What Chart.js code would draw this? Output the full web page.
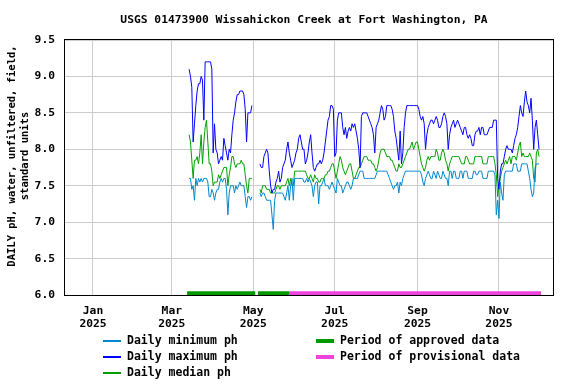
<!DOCTYPE html>
<html>
<head>
<meta charset="utf-8">
<script src="https://cdn.jsdelivr.net/npm/chart.js@4/dist/chart.umd.min.js"></script>
<style>
  html, body { margin: 0; padding: 0; background: #fff; }
  canvas { display: block; }
</style>
</head>
<body>
<canvas id="phchart" width="576" height="384"></canvas>
<script>
// x values are day-of-year 2025 (Jan 1 = 0); first value is Mar 14 (day 72)
const firstDay = 72;

// daily minimum pH, days 72..334 (null = no data)
const minPh = [
  7.6, 7.6, 7.45, 7.5, 7.3, 7.6, 7.5, 7.6, 7.55, 7.6,
  7.55, 7.6, 7.6, 7.6, 7.55, 7.35, 7.35, 7.45, 7.4, 7.3,
  7.4, 7.45, 7.45, 7.55, 7.6, 7.55, 7.6, 7.6, 7.45, 7.1,
  7.4, 7.5, 7.5, 7.5, 7.4, 7.5, 7.45, 7.5, 7.55, 7.5,
  7.5, 7.5, 7.35, 7.2, 7.35, 7.35, 7.3, 7.35,
  null, null, null, null, null,
  7.4, 7.35, 7.4, 7.4, 7.35, 7.3, 7.3, 7.3, 7.3, 7.1,
  6.9, 7.3, 7.4, 7.4, 7.4, 7.4, 7.4, 7.4, 7.35, 7.3,
  7.4, 7.5, 7.3, 7.5, 7.6, 7.3, 7.6, 7.6, 7.6, 7.6,
  7.6, 7.6, 7.6, 7.55, 7.55, 7.6, 7.55, 7.6, 7.55, 7.5,
  7.35, 7.5, 7.55, 7.55, 7.25, 7.5, 7.5, 7.55, 7.6, 7.5,
  7.5, 7.5, 7.45, 7.5, 7.55, 7.5, 7.45,
  7.4, 7.6, 7.55, 7.5, 7.5, 7.4, 7.45, 7.5, 7.55, 7.55,
  7.5, 7.45, 7.5, 7.6, 7.6, 7.6, 7.6, 7.65, 7.7, 7.7,
  7.7, 7.6, 7.6, 7.6, 7.6, 7.6, 7.6, 7.6, 7.6, 7.6,
  7.65, 7.7, 7.7, 7.7, 7.7, 7.7, 7.7, 7.7, 7.7, 7.65,
  7.6, 7.55, 7.5, 7.45, 7.5, 7.5, 7.55, 7.4, 7.55, 7.5,
  7.6, 7.65, 7.7, 7.7, 7.7,
  7.7, 7.7, 7.7, 7.7, 7.7, 7.7, 7.7, 7.7, 7.7, 7.65,
  7.55, 7.5, 7.6, 7.65, 7.7, 7.65, 7.6, 7.6, 7.7, 7.65,
  7.6, 7.7, 7.65, 7.6, 7.6, 7.7, 7.65, 7.6, 7.6, 7.5,
  7.7, 7.7, 7.6, 7.7, 7.7, 7.6, 7.6, 7.6, 7.7, 7.7,
  7.6, 7.7, 7.7, 7.7, 7.6, 7.6, 7.6, 7.6, 7.7,
  7.7, 7.65, 7.65, 7.7, 7.7, 7.7, 7.6, 7.6, 7.6, 7.6,
  7.7, 7.7, 7.7, 7.7, 7.7, 7.65, 7.1, 7.3, 7.05, 7.55,
  7.4, 7.3, 7.65, 7.7, 7.7, 7.7, 7.7, 7.7, 7.7, 7.8,
  7.8, 7.8, 7.7, 7.7, 7.7, 7.8, 7.8, 7.8, 7.8, 7.8,
  7.7, 7.6, 7.45, 7.35, 7.4, 7.75, 7.8, 7.8, 7.8
];

// daily maximum pH, days 72..334
const maxPh = [
  9.1, 9.0, 8.85, 8.1, 8.35, 8.6, 8.8, 8.9, 8.9, 9.0,
  8.95, 8.4, 9.2, 9.2, 9.2, 9.2, 9.2, 9.1, 7.95, 8.35,
  8.0, 7.95, 7.8, 7.85, 7.9, 7.85, 8.15, 8.05, 7.95, 7.85,
  8.0, 7.95, 8.2, 8.4, 8.5, 8.65, 8.75, 8.75, 8.8, 8.8,
  8.8, 8.75, 8.55, 8.1, 8.5, 8.5, 8.5, 8.6,
  null, null, null, null, null,
  7.8, 7.75, 7.75, 7.9, 7.95, 8.0, 7.95, 7.7, 7.5, 7.4,
  7.45, 7.45, 7.55, 7.6, 7.7, 7.55, 7.6, 7.75, 7.8, 7.85,
  8.0, 8.1, 7.95, 7.85, 7.75, 7.8, 7.85, 7.95, 8.0, 8.15,
  8.2, 8.1, 8.0, 8.0, 7.8, 7.85, 7.95, 8.1, 8.2, 7.95,
  7.75, 7.7, 7.75, 7.8, 7.8, 7.85, 7.8, 7.85, 7.95, 8.1,
  8.25, 8.4, 8.45, 8.6, 8.6, 8.55, 7.9,
  7.95, 8.4, 8.5, 8.5, 8.5, 8.3, 8.2, 8.3, 8.15, 8.25,
  8.3, 8.25, 8.35, 8.3, 8.35, 8.25, 8.15, 8.0, 7.75, 8.45,
  8.5, 8.5, 8.5, 8.5, 8.45, 8.4, 8.35, 8.3, 8.2, 7.95,
  8.3, 8.35, 8.4, 8.5, 8.6, 8.55, 8.4, 8.45, 8.6, 8.6,
  8.6, 8.6, 8.55, 8.45, 8.25, 8.15, 8.0, 7.85, 8.25, 7.8,
  7.95, 8.3, 8.5, 8.6, 8.6,
  8.6, 8.6, 8.6, 8.6, 8.6, 8.6, 8.6, 8.55, 8.45, 8.4,
  8.45, 8.35, 8.0, 8.2, 8.3, 8.35, 8.4, 8.4, 8.35, 8.4,
  8.45, 8.4, 8.3, 8.3, 8.35, 8.45, 8.5, 8.45, 8.35, 8.0,
  8.2, 8.3, 8.35, 8.4, 8.3, 8.35, 8.4, 8.35, 8.3, 8.25,
  8.2, 8.3, 8.3, 8.2, 8.15, 8.2, 8.15, 8.05, 8.05,
  8.2, 8.25, 8.25, 8.3, 8.2, 8.3, 8.3, 8.2, 8.2, 8.2,
  8.25, 8.3, 8.3, 8.3, 8.4, 8.4, 8.4, 7.6, 7.45, 7.7,
  7.8, 7.8, 7.9, 8.0, 8.05, 8.0, 8.0, 8.0, 7.95, 8.05,
  8.15, 8.2, 8.3, 8.45, 8.6, 8.5, 8.45, 8.65, 8.8, 8.65,
  8.6, 8.5, 8.7, 8.4, 8.0, 8.3, 8.4, 8.2, 8.0
];

// daily median pH, days 72..334
const medianPh = [
  8.2, 8.1, 7.85, 7.6, 7.85, 7.85, 7.9, 7.8, 7.95, 8.2,
  7.8, 8.1, 8.3, 8.4, 8.1, 7.8, 7.8, 7.7, 7.5, 7.55,
  7.55, 7.55, 7.65, 7.6, 7.65, 7.7, 7.75, 7.75, 7.75, 7.5,
  7.65, 7.75, 7.9, 7.9, 7.8, 7.75, 7.8, 7.8, 7.8, 7.85,
  7.8, 7.8, 7.65, 7.5, 7.4, 7.6, 7.6, 7.6,
  null, null, null, null, null,
  7.45, 7.4, 7.5, 7.5, 7.5, 7.45, 7.45, 7.45, 7.4, 7.4,
  7.4, 7.4, 7.45, 7.5, 7.5, 7.45, 7.5, 7.5, 7.5, 7.5,
  7.55, 7.6, 7.5, 7.6, 7.5, 7.5, 7.7, 7.7, 7.7, 7.7,
  7.7, 7.7, 7.7, 7.7, 7.7, 7.65, 7.6, 7.6, 7.65, 7.6,
  7.55, 7.65, 7.6, 7.6, 7.55, 7.55, 7.6, 7.6, 7.6, 7.65,
  7.65, 7.7, 7.7, 7.75, 7.8, 7.8, 7.7,
  7.6, 7.7, 7.8, 7.9, 7.85, 7.75, 7.7, 7.65, 7.7, 7.75,
  7.8, 7.8, 7.7, 7.6, 7.6, 7.65, 7.7, 7.75, 7.75, 7.8,
  7.85, 7.9, 7.9, 7.9, 7.85, 7.85, 7.85, 7.8, 7.8, 7.75,
  7.7, 7.75, 7.85, 7.95, 8.0, 8.0, 8.0, 7.95, 7.9, 7.9,
  7.9, 7.85, 7.85, 7.8, 7.75, 7.7, 7.7, 7.8, 7.75, 7.75,
  7.8, 7.85, 7.9, 7.95, 8.0,
  8.0, 8.05, 8.1, 8.0, 8.05, 8.1, 8.1, 8.0, 7.9, 7.8,
  7.75, 7.7, 7.75, 7.85, 7.9, 7.85, 7.9, 7.9, 7.9, 7.9,
  8.0, 7.95, 7.85, 7.85, 7.95, 8.0, 7.95, 7.85, 7.8, 7.7,
  7.8, 7.85, 7.9, 7.9, 7.9, 7.9, 7.9, 7.9, 7.85, 7.8,
  7.8, 7.8, 7.9, 7.9, 7.85, 7.8, 7.8, 7.8, 7.8,
  7.9, 7.9, 7.9, 7.9, 7.9, 7.9, 7.8, 7.8, 7.8, 7.8,
  7.9, 7.9, 7.9, 7.9, 7.9, 7.8, 7.65, 7.35, 7.5, 7.6,
  7.7, 7.75, 7.8, 7.85, 7.8, 7.85, 7.9, 7.8, 7.9, 7.9,
  7.9, 7.85, 7.95, 8.05, 8.1, 7.9, 7.95, 7.9, 7.9, 7.9,
  7.9, 7.95, 7.9, 7.85, 7.6, 7.55, 7.95, 8.0, 7.9
];

// approval status periods, [start day, end day]
const approvedPeriods = [[70.5, 121.5], [123.5, 147]];
const provisionalPeriods = [[147, 335.5]];

const tickDays = [0, 59, 120, 181, 243, 304];
const tickMonths = ["Jan", "Mar", "May", "Jul", "Sep", "Nov"];
const tickYears = ["2025", "2025", "2025", "2025", "2025", "2025"];

const FONT = "'DejaVu Sans Mono', 'Liberation Mono', monospace";
const BAR_LEVEL = 6.025;

function toPoints(values) {
  return values.map((v, i) => ({ x: firstDay + i, y: v }));
}

function periodSets(periods, color) {
  return periods.map((p) => ({
    data: [{ x: p[0], y: BAR_LEVEL }, { x: p[1], y: BAR_LEVEL }],
    borderColor: color,
    borderWidth: 4,
    borderCapStyle: "butt",
    pointRadius: 0,
  }));
}

const framePlugin = {
  id: "frame",
  afterDraw(chart) {
    const ctx = chart.ctx;
    const a = chart.chartArea;
    ctx.save();
    ctx.strokeStyle = "#000";
    ctx.lineWidth = 1;
    ctx.strokeRect(a.left + 0.5, a.top - 0.5, a.right - a.left - 1, a.bottom - a.top + 1);

    // title
    ctx.fillStyle = "#000";
    ctx.font = "bold 11.3px " + FONT;
    ctx.textAlign = "center";
    ctx.textBaseline = "middle";
    ctx.fillText("USGS 01473900 Wissahickon Creek at Fort Washington, PA", 304, 20);

    // y axis title
    ctx.save();
    ctx.translate(12, 156);
    ctx.rotate(-Math.PI / 2);
    ctx.font = "bold 10.5px " + FONT;
    ctx.fillText("DAILY pH, water, unfiltered, field,", 0, 0);
    ctx.fillText("standard units", 0, 13);
    ctx.restore();

    // legend
    ctx.font = "bold 11.5px " + FONT;
    ctx.textAlign = "left";
    const rows = [
      ["Daily minimum ph", "#0088cc", 103, 341, 2],
      ["Daily maximum ph", "#0000ff", 103, 357, 2],
      ["Daily median ph", "#00a000", 103, 373, 2],
      ["Period of approved data", "#009900", 316, 341, 4],
      ["Period of provisional data", "#ee44dd", 316, 357, 4],
    ];
    rows.forEach(([label, color, x, y, w]) => {
      ctx.fillStyle = color;
      ctx.fillRect(x, y - Math.floor(w / 2), 18, w);
      ctx.fillStyle = "#000";
      ctx.fillText(label, x + 24, y);
    });
    ctx.restore();
  },
};

new Chart(document.getElementById("phchart"), {
  type: "line",
  data: {
    datasets: [
      { data: toPoints(minPh), borderColor: "#0088cc", borderWidth: 1, pointRadius: 0, spanGaps: false },
      { data: toPoints(maxPh), borderColor: "#0000ff", borderWidth: 1, pointRadius: 0, spanGaps: false },
      { data: toPoints(medianPh), borderColor: "#00a000", borderWidth: 1, pointRadius: 0, spanGaps: false },
      ...periodSets(approvedPeriods, "#009900"),
      ...periodSets(provisionalPeriods, "#ee44dd"),
    ],
  },
  options: {
    responsive: false,
    animation: false,
    layout: { padding: { left: 0, right: 22, top: 40, bottom: 0 } },
    plugins: { legend: { display: false }, tooltip: { enabled: false } },
    scales: {
      x: {
        type: "linear",
        min: -21.7,
        max: 345.2,
        afterBuildTicks: (s) => { s.ticks = tickDays.map((v) => ({ value: v })); },
        afterFit: (s) => { s.height = 89; },
        ticks: {
          autoSkip: false,
          maxRotation: 0,
          padding: 10,
          color: "#000",
          font: { family: FONT, size: 11.3, weight: "bold", lineHeight: 1.15 },
          callback: (v, i) => [tickMonths[i], tickYears[i]],
        },
        grid: { color: "#cccccc", drawTicks: false },
        border: { display: false },
      },
      y: {
        min: 6,
        max: 9.5,
        afterFit: (s) => { s.width = 64; },
        ticks: {
          stepSize: 0.5,
          padding: 9,
          color: "#000",
          font: { family: FONT, size: 11.3, weight: "bold" },
          callback: (v) => v.toFixed(1),
        },
        grid: { color: "#cccccc", drawTicks: false },
        border: { display: false },
      },
    },
  },
  plugins: [framePlugin],
});
</script>
</body>
</html>
